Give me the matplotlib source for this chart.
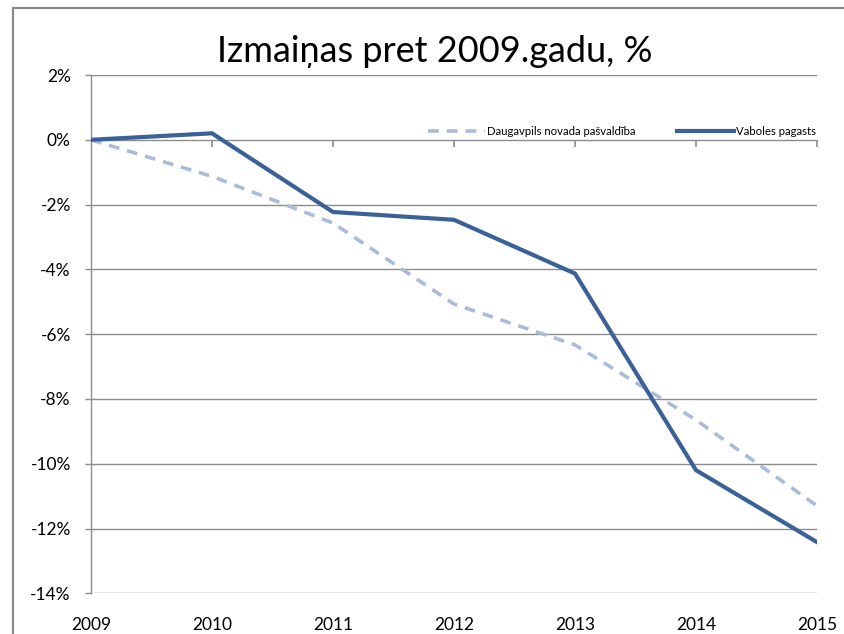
import matplotlib.pyplot as plt
from matplotlib.lines import Line2D
from matplotlib.markers import TICKDOWN
from matplotlib.ticker import FuncFormatter

plt.rcParams['font.family'] = ['Lato', 'DejaVu Sans']

years = [2009, 2010, 2011, 2012, 2013, 2014, 2015]
daugavpils = [0.0, -1.13, -2.57, -5.07, -6.33, -8.65, -11.3]
vaboles = [0.0, 0.2, -2.23, -2.47, -4.13, -10.2, -12.42]
labels = ['Daugavpils novada pašvaldība', 'Vaboles pagasts']

GRID = '#8c8c8c'
DARK = '#3A6298'
LIGHT = '#A9BCDA'

fig = plt.figure(figsize=(8.45, 6.34), dpi=100)
ax = fig.add_axes([91 / 845, 1 - 593.3 / 634, 726 / 845, 518.3 / 634])

# chart frame, only left and top edges are in the screenshot
fx, fy = 13 / 845, 1 - 8 / 634
fig.lines.append(Line2D([fx, fx, 1.0], [0, fy, fy], transform=fig.transFigure,
                        color='#8a8a8a', linewidth=1.6,
                        solid_capstyle='butt', solid_joinstyle='miter'))

ax.plot(years, daugavpils, color=LIGHT, linewidth=2.6, dashes=(3, 2.2),
        label=labels[0], zorder=3)
ax.plot(years, vaboles, color=DARK, linewidth=3.0, label=labels[1],
        solid_joinstyle='miter', zorder=4)

# horizontal axis crosses at 0%, tick marks hang below it
ax.plot(years, [0] * len(years), linestyle='none', marker=TICKDOWN,
        markersize=5, markeredgewidth=1.2, color=GRID, zorder=2)

ax.set_xlim(2009, 2015)
ax.set_ylim(-14, 2)
ax.set_yticks(range(-14, 3, 2))
ax.yaxis.set_major_formatter(FuncFormatter(lambda v, p: f'{v:.0f}%'))
ax.grid(axis='y', color=GRID, linewidth=1.0)
ax.set_axisbelow(True)

for s in ['top', 'right', 'bottom']:
    ax.spines[s].set_visible(False)
ax.spines['left'].set_color(GRID)
ax.spines['left'].set_linewidth(1.0)

ax.tick_params(axis='y', length=4.5, width=1.0, color=GRID, pad=10,
               labelsize=12.5, labelcolor='black')
ax.set_xticks(years)
ax.tick_params(axis='x', length=0, pad=17, labelsize=12.5, labelcolor='black')

handles = [Line2D([0], [0], color=LIGHT, linewidth=2.6, dashes=(3, 2.2)),
           Line2D([0], [0], color=DARK, linewidth=3.0)]
ax.legend(handles, labels, loc='upper right', bbox_to_anchor=(1.005, 0.91),
          ncol=2, frameon=False, fontsize=8.2, handlelength=5.0,
          handletextpad=0.2, columnspacing=3.6, borderaxespad=0)

fig.text(435 / 845, 1 - 51 / 634, 'Izmaiņas pret 2009.gadu, %',
         ha='center', va='center', fontsize=26)

fig.savefig('out.png', dpi=100)
